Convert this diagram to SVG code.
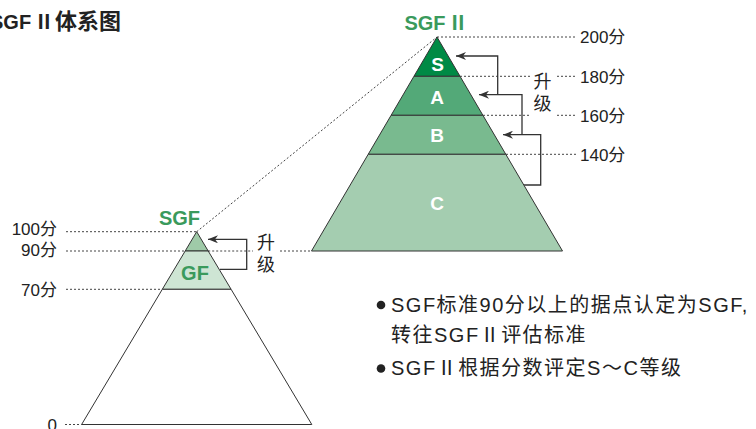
<svg xmlns="http://www.w3.org/2000/svg" width="756" height="429" viewBox="0 0 756 429">
<defs>
<style>
.lbl{font-family:"Liberation Sans","Noto Sans CJK SC",sans-serif;font-size:17px;fill:#222}
.up{font-family:"Noto Sans CJK SC",sans-serif;font-size:18px;fill:#222;text-anchor:middle}
.grade{font-family:"Liberation Sans",sans-serif;font-size:19px;font-weight:bold;fill:#fff;text-anchor:middle}
.gtitle{font-family:"Liberation Sans",sans-serif;font-size:20px;font-weight:bold;fill:#3a9a5c;text-anchor:middle}
.note{font-family:"Liberation Sans","Noto Sans CJK SC",sans-serif;font-size:20px;fill:#222;letter-spacing:1.5px}
.rn{font-family:"Noto Sans CJK SC",sans-serif}
.dot{fill:none;stroke:#444;stroke-width:1;stroke-dasharray:2 2}
.edge{stroke:#333;stroke-width:1}
.br{fill:none;stroke:#333;stroke-width:1.3}
</style>
<marker id="ah" viewBox="0 0 10 8" refX="10" refY="4" markerWidth="10" markerHeight="8" markerUnits="userSpaceOnUse" orient="auto">
<path d="M0,0 L10,4 L0,8 L3,4 z" fill="#333"/>
</marker>
</defs>
<rect width="756" height="429" fill="#fff"/>

<text x="-10" y="29" font-family="Liberation Sans,Noto Sans CJK SC,sans-serif" font-size="20" font-weight="bold" fill="#222">SGF<tspan x="34" class="rn" font-weight="bold">Ⅱ</tspan><tspan x="55" font-size="22" font-family="Noto Sans CJK SC,sans-serif" font-weight="bold">体系图</tspan></text>

<g id="connectors">
<path class="dot" d="M196.7,231.7 L437,37"/>
<path class="dot" d="M437,37 H577"/>
<path class="dot" d="M460,76.3 H530 M557,76.3 H576"/>
<path class="dot" d="M483,115.3 H530 M557,115.3 H576"/>
<path class="dot" d="M506,154.3 H576"/>
<path class="dot" d="M66,231.7 H196.7"/>
<path class="dot" d="M66,251 H185.2 M208.2,251 H253 M280,251 H311.5"/>
<path class="dot" d="M66,289.3 H162.3"/>
<path class="dot" d="M65,424.5 H81.6"/>
<path class="br" d="M497.7,94.7 V56 H456" marker-end="url(#ah)"/>
<path class="br" d="M522,134.7 V94.7 H479" marker-end="url(#ah)"/>
<path class="br" d="M524,185 H540.7 V134.7 H503" marker-end="url(#ah)"/>
<path class="br" d="M220,269.3 H246.7 V239.3 H208" marker-end="url(#ah)"/>
</g>

<g id="sgf2-pyramid">
<polygon class="edge" points="437,37 460.05,76.3 413.95,76.3" fill="#008a45"/>
<polygon class="edge" points="413.95,76.3 460.05,76.3 482.9,115.3 391.1,115.3" fill="#53a978"/>
<polygon class="edge" points="391.1,115.3 482.9,115.3 505.8,154.3 368.2,154.3" fill="#79ba8f"/>
<polygon class="edge" points="368.2,154.3 505.8,154.3 562.5,251 311.5,251" fill="#a4cdb0"/>
<text class="grade" x="437.5" y="71">S</text>
<text class="grade" x="437" y="104">A</text>
<text class="grade" x="437" y="142">B</text>
<text class="grade" x="437" y="210">C</text>
<text class="gtitle" x="425" y="30">SGF<tspan x="458" class="rn">Ⅱ</tspan></text>
</g>

<g id="sgf-pyramid">
<polygon class="edge" points="196.7,231.7 208.2,251 185.2,251" fill="#9fcaa8"/>
<polygon class="edge" points="185.2,251 208.2,251 231.1,289.3 162.3,289.3" fill="#cee5d4"/>
<polygon class="edge" points="162.3,289.3 231.1,289.3 311.8,424.5 81.6,424.5" fill="#fff"/>
<text class="gtitle" x="179.5" y="225">SGF</text>
<text class="gtitle" x="195" y="280" font-size="19">GF</text>
</g>

<g id="labels-right">
<text class="lbl" x="580" y="43">200分</text>
<text class="lbl" x="580" y="82.5">180分</text>
<text class="lbl" x="580" y="121.5">160分</text>
<text class="lbl" x="580" y="160.5">140分</text>
<text class="up" x="542.5" y="88">升<tspan x="542.5" dy="22">级</tspan></text>
</g>

<g id="labels-left">
<text class="lbl" x="57" y="234.5" text-anchor="end">100分</text>
<text class="lbl" x="57" y="256" text-anchor="end">90分</text>
<text class="lbl" x="57" y="296" text-anchor="end">70分</text>
<text class="lbl" x="57" y="431" text-anchor="end">0</text>
<text class="up" x="266" y="249">升<tspan x="266" dy="22">级</tspan></text>
</g>

<g id="notes">
<circle cx="381" cy="305" r="4.3" fill="#222"/>
<text class="note" x="391" y="312">SGF标准90分以上的据点认定为SGF,</text>
<text class="note" x="391" y="342">转往SGF<tspan class="rn">Ⅱ</tspan>评估标准</text>
<circle cx="381" cy="368.5" r="4.3" fill="#222"/>
<text class="note" x="391" y="374.5">SGF<tspan class="rn">Ⅱ</tspan>根据分数评定S～C等级</text>
</g>
</svg>
